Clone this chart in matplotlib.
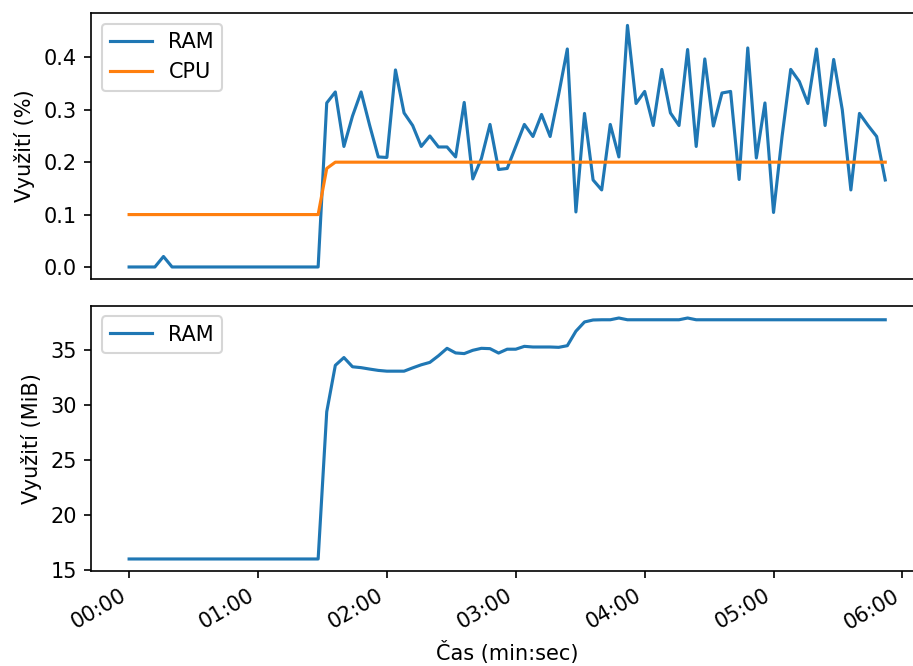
import numpy as np
import matplotlib
matplotlib.use("Agg")
import matplotlib.pyplot as plt
from matplotlib.ticker import MultipleLocator, FuncFormatter

# samples every 4 s, 00:00 .. 05:52
seconds = np.arange(0, 356, 4)

ram_pct = [
    0, 0, 0, 0, 0.02, 0, 0, 0, 0, 0, 0, 0, 0, 0, 0, 0, 0, 0, 0, 0, 0, 0, 0,
    0.313, 0.334, 0.23, 0.288, 0.334, 0.27, 0.21, 0.209, 0.376, 0.294,
    0.270, 0.23, 0.25, 0.229, 0.229, 0.21, 0.314, 0.168, 0.207, 0.272,
    0.186, 0.188, 0.23, 0.272, 0.249, 0.291, 0.249, 0.33, 0.416, 0.105,
    0.293, 0.166, 0.147, 0.272, 0.21, 0.461, 0.312, 0.335, 0.27, 0.377,
    0.294, 0.27, 0.415, 0.23, 0.397, 0.269, 0.332, 0.335, 0.167, 0.418,
    0.208, 0.313, 0.104, 0.25, 0.377, 0.354, 0.312, 0.416, 0.27, 0.396,
    0.30, 0.147, 0.293, 0.27, 0.249, 0.166,
]

cpu_pct = [0.1] * 23 + [0.188] + [0.2] * 65

ram_mib = [
    16.0, 16.0, 16.0, 16.0, 16.0, 16.0, 16.0, 16.0, 16.0, 16.0, 16.0, 16.0,
    16.0, 16.0, 16.0, 16.0, 16.0, 16.0, 16.0, 16.0, 16.0, 16.0, 16.0,
    29.4, 33.63, 34.34, 33.5, 33.42, 33.29, 33.17, 33.1, 33.1, 33.1,
    33.4, 33.68, 33.9, 34.5, 35.18, 34.76, 34.7, 35.0, 35.18, 35.15,
    34.75, 35.1, 35.1, 35.36, 35.3, 35.3, 35.3, 35.27, 35.42, 36.74,
    37.58, 37.76, 37.78, 37.78, 37.94, 37.78, 37.78, 37.78, 37.78, 37.78,
    37.78, 37.78, 37.94, 37.78, 37.78, 37.78, 37.78, 37.78, 37.78, 37.78,
    37.78, 37.78, 37.78, 37.78, 37.78, 37.78, 37.78, 37.78, 37.78, 37.78,
    37.78, 37.78, 37.78, 37.78, 37.78, 37.78,
]


def mmss(x, pos):
    x = int(round(x))
    return f"{x // 60:02d}:{x % 60:02d}"


fig = plt.figure(figsize=(913 / 150, 666 / 150), dpi=150)
ax1 = fig.add_axes([0.1, 0.581, 0.911, 0.399])
ax2 = fig.add_axes([0.1, 0.1426, 0.911, 0.398])

ax1.plot(seconds, ram_pct, label="RAM")
ax1.plot(seconds, cpu_pct, label="CPU")
ax1.set_ylabel("Využití (%)")
ax1.legend(loc="upper left")
ax1.tick_params(axis="x", bottom=False, labelbottom=False)

ax2.plot(seconds, ram_mib, label="RAM")
ax2.set_ylabel("Využití (MiB)")
ax2.legend(loc="upper left")
ax2.set_xlabel("Čas (min:sec)")

for ax in (ax1, ax2):
    ax.xaxis.set_major_locator(MultipleLocator(60))
    ax.xaxis.set_major_formatter(FuncFormatter(mmss))
ax1.set_xlim(ax2.get_xlim())

for lbl in ax2.get_xticklabels():
    lbl.set_rotation(30)
    lbl.set_ha("right")

fig.savefig("out.png", dpi=150)
